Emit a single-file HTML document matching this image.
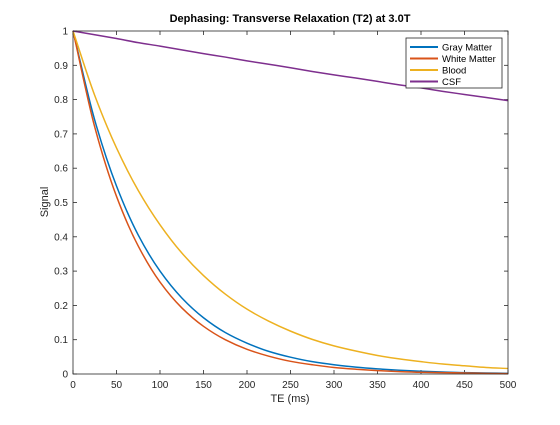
<!DOCTYPE html>
<html><head><meta charset="utf-8"><style>
body{margin:0;background:#fff;width:560px;height:420px;overflow:hidden}
svg{font-family:"Liberation Sans",Arial,sans-serif}
</style></head><body>
<svg id="c" width="560" height="420">
<rect width="560" height="420" fill="#fff"/>
<rect x="73" y="31" width="435" height="343" fill="#fff"/>
<g id="grid"></g><g id="series"></g>
<rect x="73" y="31" width="435" height="343" fill="none" stroke="#262626" stroke-width="0.8"/>
<text x="290" y="22" text-anchor="middle" font-size="11" font-weight="bold" fill="#000">Dephasing: Transverse Relaxation (T2) at 3.0T</text>
<text x="290" y="402" text-anchor="middle" font-size="11" fill="#262626">TE (ms)</text>
<text x="48" y="202" text-anchor="middle" font-size="11" fill="#262626" transform="rotate(-90 48 202)">Signal</text>
<g>
<rect x="406" y="38" width="96" height="50" fill="#fff" stroke="#262626" stroke-width="0.8"/>
<g id="leg"></g></g>
</svg>
<script>
const te=[0,25,50,75,100,125,150,175,200,225,250,275,300,325,350,375,400,425,450,475,500];
const gray=[1,0.740,0.548,0.405,0.300,0.222,0.164,0.121,0.090,0.066,0.049,0.036,0.027,0.020,0.015,0.011,0.008,0.006,0.004,0.003,0.002];
const white=[1,0.720,0.518,0.373,0.268,0.193,0.139,0.100,0.072,0.052,0.037,0.027,0.019,0.014,0.010,0.007,0.005,0.004,0.003,0.002,0.001];
const blood=[1,0.812,0.659,0.535,0.435,0.353,0.287,0.233,0.189,0.154,0.125,0.101,0.082,0.067,0.054,0.044,0.036,0.029,0.024,0.019,0.016];
const csf=[1,0.989,0.978,0.966,0.956,0.945,0.934,0.924,0.913,0.903,0.893,0.882,0.872,0.863,0.853,0.843,0.834,0.824,0.815,0.806,0.797];
const seriesNames=["Gray Matter","White Matter","Blood","CSF"];
const xTicks=[0,50,100,150,200,250,300,350,400,450,500];
const yTicks=[0,0.1,0.2,0.3,0.4,0.5,0.6,0.7,0.8,0.9,1];
const L=73,R=508,T=31,B=374,NS="http://www.w3.org/2000/svg";
const sx=v=>L+(v-0)/(500-0)*(R-L), sy=v=>B-(v-0)/(1-0)*(B-T);
const g=document.getElementById('grid');
function mk(t,a,p){const e=document.createElementNS(NS,t);for(const k in a)e.setAttribute(k,a[k]);p.appendChild(e);return e;}
xTicks.forEach(v=>{const x=sx(v);
 const t=mk('line',{x1:x,x2:x,y1:B,y2:B-4,stroke:'#262626','stroke-width':0.8},g);
 
 mk('line',{x1:x,x2:x,y1:T,y2:T+4,stroke:'#262626','stroke-width':0.8},g);
 const l=mk('text',{x:x,y:B+14,'text-anchor':'middle','font-size':10,fill:'#262626'},g);l.textContent=v;
 });
yTicks.forEach(v=>{const y=sy(v);
 const t=mk('line',{x1:L,x2:L+4,y1:y,y2:y,stroke:'#262626','stroke-width':0.8},g);
 
 mk('line',{x1:R,x2:R-4,y1:y,y2:y,stroke:'#262626','stroke-width':0.8},g);
 const l=mk('text',{x:L-5,y:y+3.5,'text-anchor':'end','font-size':10,fill:'#262626'},g);l.textContent=String(v);
 });
function mono(xs,ys){const n=xs.length,d=[],m=[];
 for(let i=0;i<n-1;i++)d.push((ys[i+1]-ys[i])/(xs[i+1]-xs[i]));
 m[0]=d[0];m[n-1]=d[n-2];
 for(let i=1;i<n-1;i++)m[i]=(d[i-1]*d[i]<=0)?0:2/(1/d[i-1]+1/d[i]);
 let p='M'+xs[0]+','+ys[0];
 for(let i=0;i<n-1;i++){const h=xs[i+1]-xs[i];
  p+=' C'+(xs[i]+h/3)+','+(ys[i]+m[i]*h/3)+' '+(xs[i+1]-h/3)+','+(ys[i+1]-m[i+1]*h/3)+' '+xs[i+1]+','+ys[i+1];}
 return p;}
const data=[gray,white,blood,csf],cols=['#0072BD','#D95319','#EDB120','#7E2F8E'],ids=['gray-matter-line','white-matter-line','blood-line','csf-line'];
const sg=document.getElementById('series');
data.forEach((s,i)=>{const p=mk('path',{d:mono(te.map(sx),s.map(sy)),fill:'none',stroke:cols[i],'stroke-width':1.5},sg);
 });
const lg=document.getElementById('leg');
seriesNames.forEach((n,i)=>{const y=47+i*11.5;
 const ln=mk('line',{x1:410,x2:438,y1:y,y2:y,stroke:cols[i],'stroke-width':2},lg);
 
 const t=mk('text',{x:442,y:y+3.5,'font-size':9.5,fill:'#000'},lg);t.textContent=n;
 });
</script>
</body></html>
